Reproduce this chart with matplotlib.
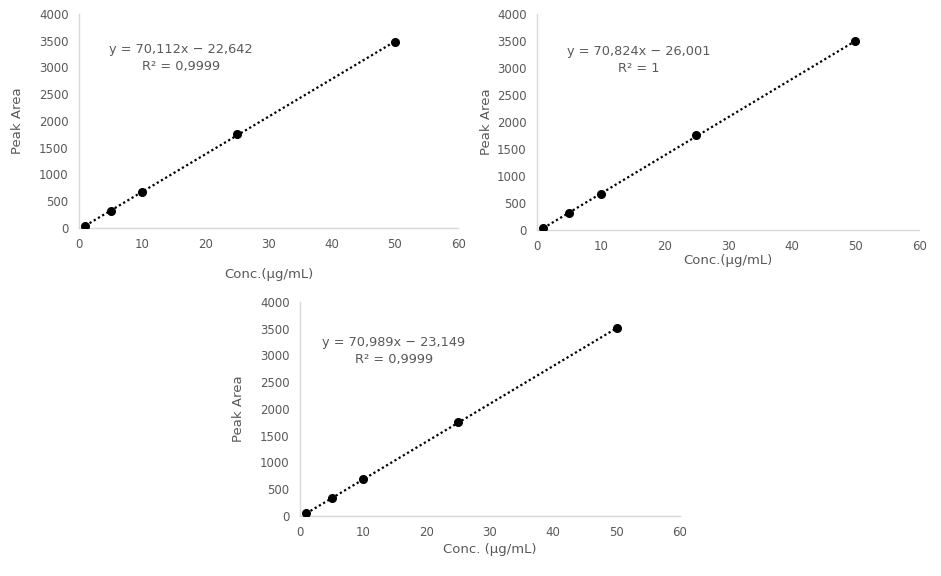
import numpy as np
import matplotlib
matplotlib.use("Agg")
import matplotlib.pyplot as plt

plt.rcParams['font.family'] = ['DejaVu Sans', 'Noto Sans CJK KR']

conc = [1, 5, 10, 25, 50]
area_1 = [45, 318, 670, 1750, 3478]
area_2 = [43, 310, 663, 1752, 3494]
area_3 = [47, 330, 684, 1752, 3508]

eq_1 = "y = 70,112x − 22,642\nR² = 0,9999"
eq_2 = "y = 70,824x − 26,001\nR² = 1"
eq_3 = "y = 70,989x − 23,149\nR² = 0,9999"

xlabels = ["Conc.(µg/mL)", "Conc.(µg/mL)", "Conc. (µg/mL)"]
ylabel = "Peak Area"

fig = plt.figure(figsize=(9.41, 5.76), dpi=100)

panels = [
    dict(rect=[0.0840, 0.6042, 0.4028, 0.3715], y=area_1, eq=eq_1, eqpos=(16.1, 3170),
         xl=xlabels[0], xly=-0.185, ylx=-0.145),
    dict(rect=[0.5707, 0.6007, 0.4060, 0.3750], y=area_2, eq=eq_2, eqpos=(15.9, 3150),
         xl=xlabels[1], xly=-0.113, ylx=-0.115),
    dict(rect=[0.3188, 0.1042, 0.4038, 0.3715], y=area_3, eq=eq_3, eqpos=(14.8, 3080),
         xl=xlabels[2], xly=-0.128, ylx=-0.145),
]

grey = '#595959'
for p in panels:
    ax = fig.add_axes(p['rect'])
    x = np.array(conc, dtype=float)
    y = np.array(p['y'], dtype=float)
    m, b = np.polyfit(x, y, 1)
    xs = np.array([x.min(), x.max()])
    ax.plot(xs, m * xs + b, color='black', lw=1.6, linestyle=(0, (1, 1.2)), zorder=2)
    ax.plot(x, y, 'o', color='black', ms=5.5, zorder=3)
    ax.set_xlim(0, 60)
    ax.set_ylim(0, 4000)
    ax.set_xticks(range(0, 61, 10))
    ax.set_yticks(range(0, 4001, 500))
    for s in ['top', 'right']:
        ax.spines[s].set_visible(False)
    for s in ['left', 'bottom']:
        ax.spines[s].set_color('#d9d9d9')
        ax.spines[s].set_linewidth(1.0)
    ax.tick_params(length=0, labelsize=8.5, colors=grey)
    ax.tick_params(axis='y', pad=7.5)
    ax.tick_params(axis='x', pad=7)
    ax.set_xlabel(p['xl'], fontsize=9.5, color=grey)
    ax.xaxis.set_label_coords(0.5, p['xly'])
    ax.set_ylabel(ylabel, fontsize=9.5, color=grey)
    ax.yaxis.set_label_coords(p['ylx'], 0.5)
    ax.text(p['eqpos'][0], p['eqpos'][1], p['eq'], ha='center', va='center',
            fontsize=9.3, color=grey, linespacing=1.4)

fig.savefig('out.png', dpi=100, facecolor='white')
